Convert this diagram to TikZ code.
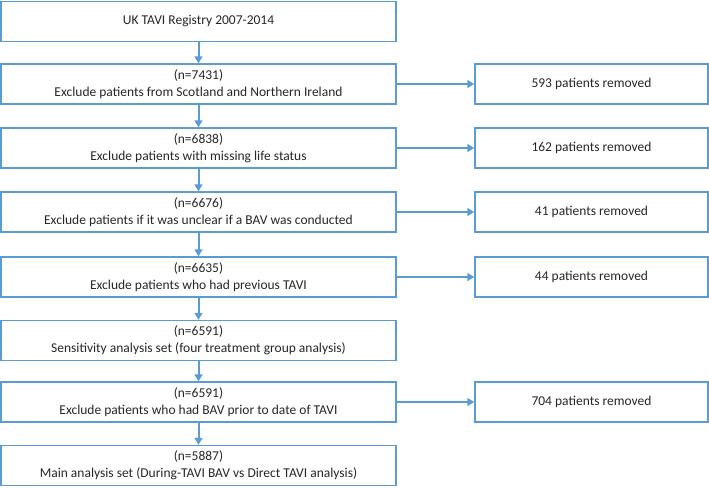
\documentclass[tikz,border=0pt]{standalone}
\usepackage{fontspec}
\setmainfont{Carlito}
\usetikzlibrary{arrows.meta}
\definecolor{bord}{HTML}{5B9BD5}
\definecolor{txt}{HTML}{262626}
\tikzset{
  lbox/.style={draw=bord, line width=1.5pt, minimum width=395pt, minimum height=40pt, align=center, font=\fontsize{13.5}{17}\selectfont, text=txt, inner sep=0pt},
  rbox/.style={draw=bord, line width=1.5pt, minimum width=233pt, minimum height=40pt, align=center, font=\fontsize{13.5}{17}\selectfont, text=txt, inner sep=0pt},
  conn/.style={draw=bord, line width=2pt, -{Triangle[length=7pt,width=8pt]}}
}
\begin{document}
\begin{tikzpicture}[x=1pt,y=1pt]
\useasboundingbox (0,0) rectangle (709,-488);
\node[lbox] (b1) at (198.5,-21.5) {UK TAVI Registry 2007-2014};
\node[lbox] (b2) at (198.5,-84) {(n=7431)\\Exclude patients from Scotland and Northern Ireland};
\node[lbox] (b3) at (198.5,-148) {(n=6838)\\Exclude patients with missing life status};
\node[lbox] (b4) at (198.5,-212) {(n=6676)\\Exclude patients if it was unclear if a BAV was conducted};
\node[lbox] (b5) at (198.5,-277) {(n=6635)\\Exclude patients who had previous TAVI};
\node[lbox] (b6) at (198.5,-340.5) {(n=6591)\\Sensitivity analysis set (four treatment group analysis)};
\node[lbox] (b7) at (198.5,-402) {(n=6591)\\Exclude patients who had BAV prior to date of TAVI};
\node[lbox] (b8) at (198.5,-465.5) {(n=5887)\\Main analysis set (During-TAVI BAV vs Direct TAVI analysis)};
\node[rbox] (r2) at (591.5,-84) {593 patients removed};
\node[rbox] (r3) at (591.5,-148) {162 patients removed};
\node[rbox] (r4) at (591.5,-212) {41 patients removed};
\node[rbox] (r5) at (591.5,-277) {44 patients removed};
\node[rbox] (r7) at (591.5,-402) {704 patients removed};
\foreach \a/\b in {b1/b2,b2/b3,b3/b4,b4/b5,b5/b6,b6/b7,b7/b8}
  \draw[conn] (\a.south) -- (\b.north);
\foreach \a/\b in {b2/r2,b3/r3,b4/r4,b5/r5,b7/r7}
  \draw[conn] (\a.east) -- (\b.west);
\end{tikzpicture}
\end{document}
